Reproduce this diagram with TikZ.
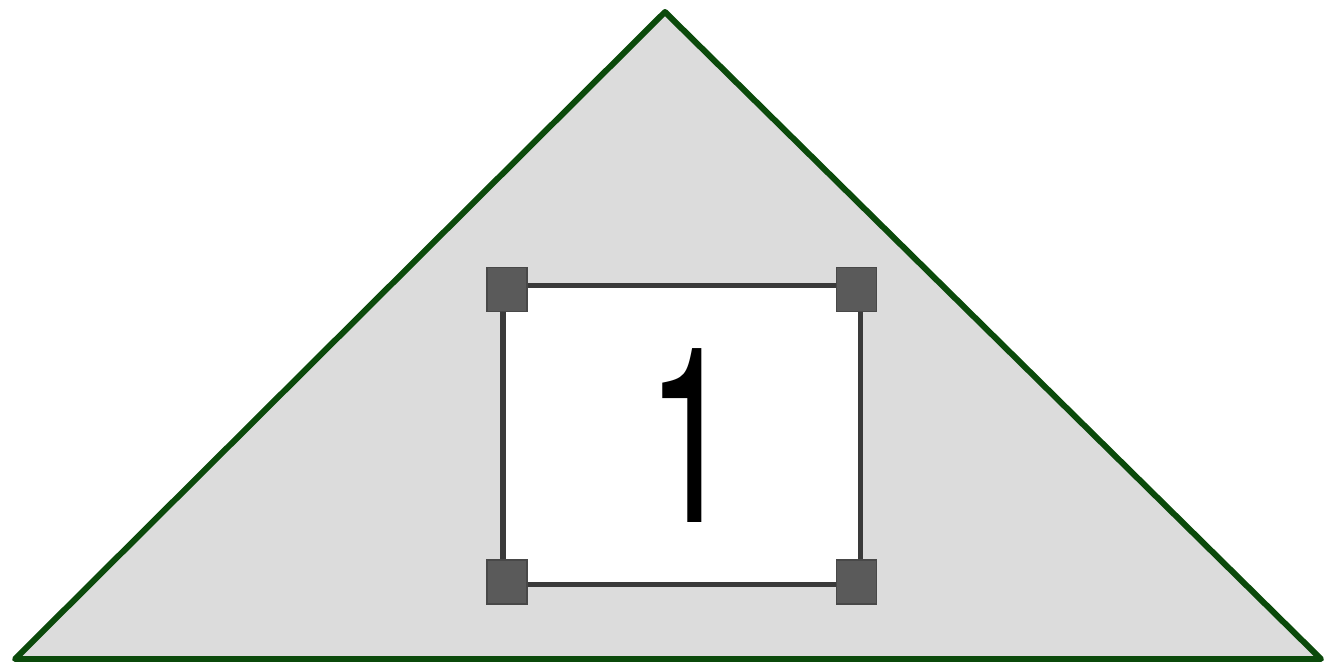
\documentclass[tikz,border=0pt]{standalone}
\usepackage{fontspec}
\newfontfamily\numfont{TeX Gyre Heros}
\definecolor{roofgreen}{HTML}{0B4A0B}
\definecolor{roofgray}{HTML}{DCDCDC}
\definecolor{framegray}{HTML}{3A3A3A}
\definecolor{cornergray}{HTML}{5A5A5A}
\tikzset{
  roof/.style={draw=roofgreen,line width=4.5pt,fill=roofgray,line join=round},
  frame/.style={draw=framegray,line width=4pt,fill=white},
  corner/.style={fill=cornergray,draw=cornergray!80!black,line width=0.8pt,minimum width=30pt,minimum height=33pt,inner sep=0pt},
}
\begin{document}
\begin{tikzpicture}[x=0.75pt,y=-0.75pt]
\useasboundingbox (0,0) rectangle (1334,661);
\coordinate (apex) at (665,12);
\coordinate (bl) at (15,659);
\coordinate (br) at (1321,659);
\draw[roof] (apex) -- (br) -- (bl) -- cycle;
\node[frame,minimum width=268pt,minimum height=224pt,inner sep=0pt] (win) at (681.5,435) {};
\node[corner] (c1) at (507,289.5) {};
\node[corner] (c2) at (856.5,289.5) {};
\node[corner] (c3) at (507,582) {};
\node[corner] (c4) at (856.5,582) {};
\node[inner sep=0pt] (num) at (691,436) {\scalebox{0.65}[1]{\numfont\fontsize{184pt}{184pt}\selectfont 1}};
\end{tikzpicture}
\end{document}
